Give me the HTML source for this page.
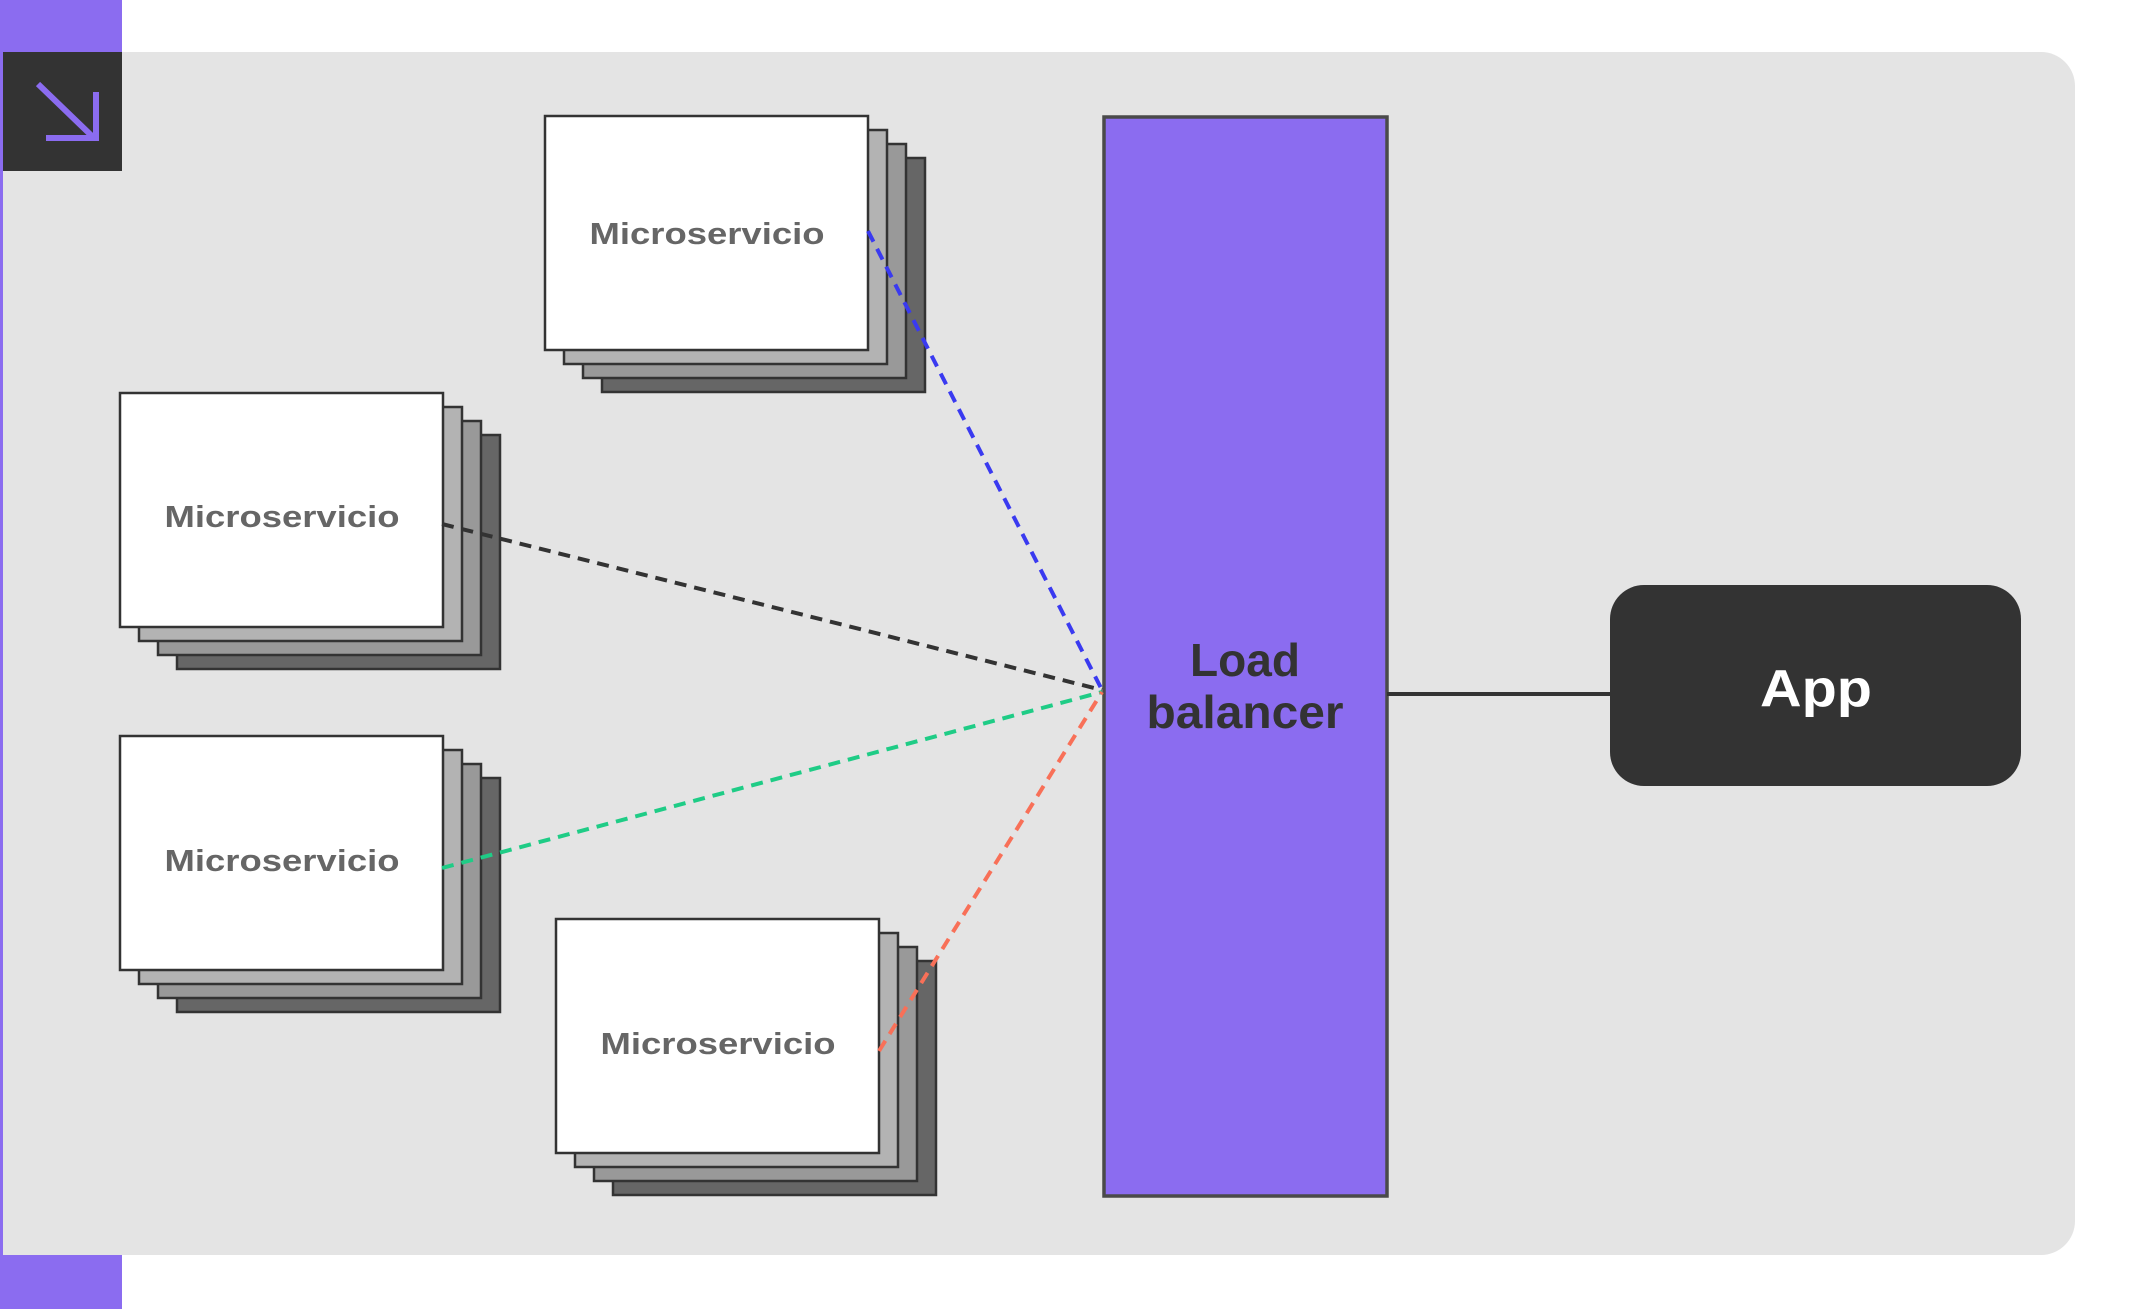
<!DOCTYPE html>
<html><head><meta charset="utf-8"><style>
html,body{margin:0;padding:0;background:#fff;}
svg{display:block;}
text{font-family:"Liberation Sans",sans-serif;}
</style></head><body>
<svg width="2134" height="1309" viewBox="0 0 2134 1309" xmlns="http://www.w3.org/2000/svg">
<rect x="0" y="0" width="122" height="1309" fill="#8b6cf0"/>
<path d="M3 52 H2041 A34 34 0 0 1 2075 86 V1221 A34 34 0 0 1 2041 1255 H3 Z" fill="#e4e4e4"/>
<rect x="3" y="52" width="119" height="119" fill="#333"/>
<g stroke="#8b6cf0" stroke-width="6" fill="none">
<line x1="38" y1="84" x2="94" y2="138"/>
<polyline points="46,138 96,138 96,92"/>
</g>
<g stroke="#333" stroke-width="2.5">
<rect x="602" y="158" width="323" height="234" fill="#666"/>
<rect x="583" y="144" width="323" height="234" fill="#999"/>
<rect x="564" y="130" width="323" height="234" fill="#b3b3b3"/>
<rect x="545" y="116" width="323" height="234" fill="#fff"/>
<rect x="177" y="435" width="323" height="234" fill="#666"/>
<rect x="158" y="421" width="323" height="234" fill="#999"/>
<rect x="139" y="407" width="323" height="234" fill="#b3b3b3"/>
<rect x="120" y="393" width="323" height="234" fill="#fff"/>
<rect x="177" y="778" width="323" height="234" fill="#666"/>
<rect x="158" y="764" width="323" height="234" fill="#999"/>
<rect x="139" y="750" width="323" height="234" fill="#b3b3b3"/>
<rect x="120" y="736" width="323" height="234" fill="#fff"/>
<rect x="613" y="961" width="323" height="234" fill="#666"/>
<rect x="594" y="947" width="323" height="234" fill="#999"/>
<rect x="575" y="933" width="323" height="234" fill="#b3b3b3"/>
<rect x="556" y="919" width="323" height="234" fill="#fff"/>
</g>
<g fill="#666" font-size="31" font-weight="bold" text-anchor="middle">
<text x="707" y="244" textLength="235" lengthAdjust="spacingAndGlyphs">Microservicio</text>
<text x="282" y="527" textLength="235" lengthAdjust="spacingAndGlyphs">Microservicio</text>
<text x="282" y="871" textLength="235" lengthAdjust="spacingAndGlyphs">Microservicio</text>
<text x="718" y="1054" textLength="235" lengthAdjust="spacingAndGlyphs">Microservicio</text>
</g>
<rect x="1104" y="117" width="283" height="1079" fill="#8b6cf0" stroke="#4a4a4a" stroke-width="3.5"/>
<line x1="1387" y1="694" x2="1612" y2="694" stroke="#333" stroke-width="4"/>
<g stroke-width="4" stroke-dasharray="12 8" fill="none">
<line x1="868" y1="231" x2="1102" y2="690" stroke="#3a3af0"/>
<line x1="442" y1="524" x2="1102" y2="690" stroke="#333"/>
<line x1="442" y1="868" x2="1102" y2="692" stroke="#1fcc86"/>
<line x1="879" y1="1051" x2="1102" y2="692" stroke="#f87058"/>
</g>
<g fill="#333" font-size="46" font-weight="bold" text-anchor="middle">
<text x="1245" y="676" textLength="110" lengthAdjust="spacingAndGlyphs">Load</text>
<text x="1245" y="728" textLength="197" lengthAdjust="spacingAndGlyphs">balancer</text>
</g>
<rect x="1610" y="585" width="411" height="201" rx="34" fill="#333"/>
<text x="1816" y="706" fill="#fff" font-size="52" font-weight="bold" text-anchor="middle" textLength="112" lengthAdjust="spacingAndGlyphs">App</text>
</svg>
</body></html>
